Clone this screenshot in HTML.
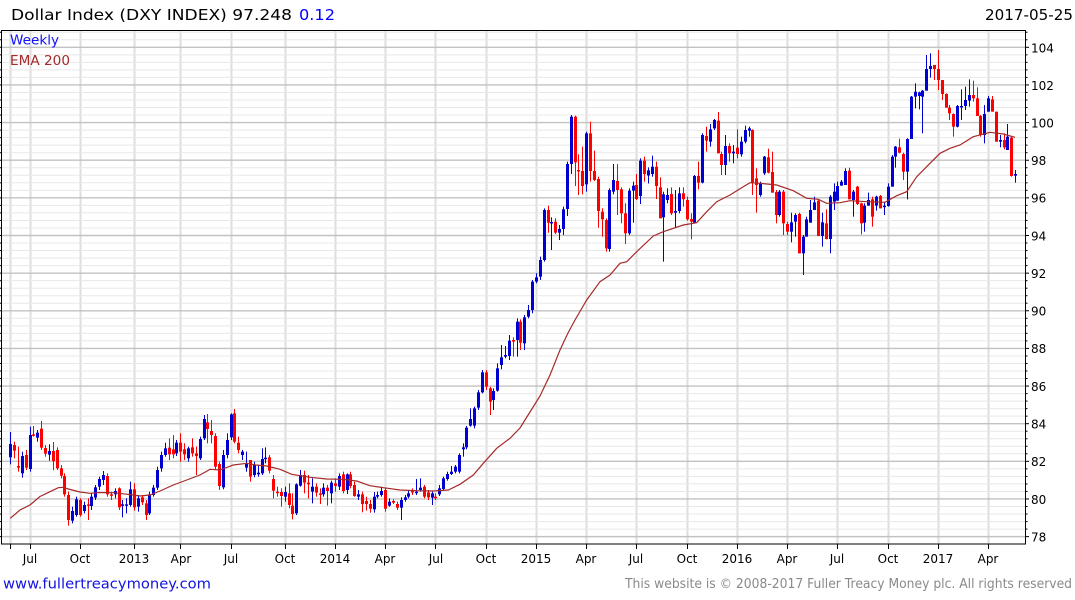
<!DOCTYPE html>
<html><head><meta charset="utf-8">
<style>
html,body{margin:0;padding:0;background:#fff;width:1075px;height:600px;overflow:hidden;}
svg{display:block;}
text{font-family:"DejaVu Sans","Liberation Sans",sans-serif;}
</style></head><body>
<svg id="c" width="1075" height="600" viewBox="0 0 1075 600" xmlns="http://www.w3.org/2000/svg">
<rect x="0" y="0" width="1075" height="600" fill="#fff"/>
<g id="grid"></g>
<g id="candles"></g>
<g id="ema"></g>
<g id="axes"></g>
<rect x="1.5" y="30.5" width="1024" height="513.5" fill="none" stroke="#000" stroke-width="1"/>

<text x="11" y="20" font-size="15" fill="#000" textLength="281" lengthAdjust="spacingAndGlyphs">Dollar Index (DXY INDEX) 97.248</text>
<text x="299" y="20" font-size="15" fill="#0000ff" textLength="36" lengthAdjust="spacingAndGlyphs">0.12</text>
<text x="985" y="20" font-size="15" fill="#000" textLength="88" lengthAdjust="spacingAndGlyphs">2017-05-25</text>

<text x="10" y="44.5" font-size="13" fill="#1010ff" textLength="49" lengthAdjust="spacingAndGlyphs">Weekly</text>
<text x="10" y="65" font-size="13" fill="#a52a2a" textLength="60" lengthAdjust="spacingAndGlyphs">EMA 200</text>

<g font-size="12" fill="#000">
<text x="1031" y="52.3">104</text>
<text x="1031" y="89.9">102</text>
<text x="1031" y="127.5">100</text>
<text x="1031" y="165.1">98</text>
<text x="1031" y="202.7">96</text>
<text x="1031" y="240.3">94</text>
<text x="1031" y="277.9">92</text>
<text x="1031" y="315.6">90</text>
<text x="1031" y="353.2">88</text>
<text x="1031" y="390.9">86</text>
<text x="1031" y="428.5">84</text>
<text x="1031" y="466.1">82</text>
<text x="1031" y="503.8">80</text>
<text x="1031" y="541.4">78</text>
</g>

<g font-size="12" fill="#000" text-anchor="middle">
<text x="30" y="563">Jul</text>
<text x="80" y="563">Oct</text>
<text x="134" y="563">2013</text>
<text x="181" y="563">Apr</text>
<text x="231" y="563">Jul</text>
<text x="285" y="563">Oct</text>
<text x="335" y="563">2014</text>
<text x="385" y="563">Apr</text>
<text x="436" y="563">Jul</text>
<text x="486" y="563">Oct</text>
<text x="536" y="563">2015</text>
<text x="586" y="563">Apr</text>
<text x="636" y="563">Jul</text>
<text x="687" y="563">Oct</text>
<text x="737" y="563">2016</text>
<text x="787" y="563">Apr</text>
<text x="837" y="563">Jul</text>
<text x="888" y="563">Oct</text>
<text x="938" y="563">2017</text>
<text x="988" y="563">Apr</text>
</g>

<text x="3" y="588.5" font-size="14.5" fill="#1414e0" textLength="208" lengthAdjust="spacingAndGlyphs">www.fullertreacymoney.com</text>
<text x="625" y="588" font-size="13" fill="#8a8a8a" textLength="447" lengthAdjust="spacingAndGlyphs">This website is © 2008-2017 Fuller Treacy Money plc. All rights reserved</text>
</svg>
<script>
(function(){
var NS="http://www.w3.org/2000/svg";
function el(tag,attrs,parent){var e=document.createElementNS(NS,tag);for(var k in attrs)e.setAttribute(k,attrs[k]);parent.appendChild(e);return e;}
var S=3.865,X0=10.3,N=261;
function yOf(p){return 47.3+(104-p)*18.82;}
var grid=document.getElementById('grid'),axes=document.getElementById('axes');
var ticks=[0,5,18,32,44,57,71,84,97,110,123,136,149,162,175,188,201,214,227,240,253];
ticks.forEach(function(t){var x=Math.round(X0+S*t)+0.5;
 el('line',{x1:x,x2:x,y1:31,y2:544,stroke:'#dddddd','stroke-width':2},grid);
 el('line',{x1:x,x2:x,y1:544,y2:549,stroke:'#000','stroke-width':1},axes);});
for(var k=-1;k<=67;k++){var p=78+0.4*k;var y=yOf(p);if(y<31||y>543.5)continue;var major=(k%5===0);
 el('line',{x1:2,x2:1025,y1:y,y2:y,stroke:major?'#c2c2c2':'#e8e8e8','stroke-width':major?1.4:1},grid);
 el('line',{x1:1025.7,x2:major?1029:1027.5,y1:y,y2:y,stroke:'#000','stroke-width':1},axes);
 el('line',{x1:0,x2:2,y1:y,y2:y,stroke:'#000','stroke-width':1},axes);}

var Z=[
{ox:0,oy:400,lo:-1,hi:252,d:[
[31,132,172,'b',96,193],[43,135,152,'r',125,175],[55,198,203,'r',140,215],[67,168,220,'b',155,233],[76,165,203,'r',150,210],[88,105,207,'b',80,215],[100,103,106,'r',78,110],[112,98,113,'b',90,125],[124,86,143,'r',63,150],[136,144,161,'r',135,170],[148,153,164,'b',133,182],[169,150,205,'r',142,210],[181,205,227,'r',195,235],[193,228,283,'r',220,290],[205,285,360,'r',275,377],[217,333,362,'b',320,370],[229,298,345,'b',290,350],[241,300,345,'r',295,350],[250,315,333,'b',305,340],[262,313,317,'r',295,360],[274,290,318,'b',280,330],[286,262,293,'b',255,300],[298,237,260,'b',230,270],[310,225,240,'b',213,255],[322,228,283,'r',220,290],[334,283,287,'r',275,300],[343,273,283,'b',265,295],[355,265,322,'r',262,330],[367,313,317,'b',300,352],[379,313,317,'b',295,340],[391,268,315,'b',245,320],[403,268,322,'r',250,332],[415,295,320,'b',285,335],[424,292,307,'r',285,315],[436,310,345,'r',300,360],[448,283,340,'b',275,345],[460,263,285,'b',255,290],[472,210,263,'b',200,270],[484,165,205,'b',155,215],[496,145,165,'b',128,170],[505,143,163,'r',115,180],[517,148,163,'r',105,175],[529,128,160,'b',120,168],[541,128,155,'r',100,185],[553,148,163,'r',130,180],[565,145,175,'b',140,185],[577,142,160,'r',115,170],[589,160,168,'r',140,225],[598,117,175,'b',110,180],[610,57,115,'b',45,120],[622,67,87,'r',42,130],[634,93,105,'r',60,130],[646,108,200,'r',100,210],[658,192,258,'r',185,270],[670,165,262,'b',150,268],[679,120,165,'b',100,175],[691,43,112,'b',40,120],[703,40,125,'r',27,130],[715,128,150,'r',110,160],[727,155,165,'b',150,180],[739,190,203,'b',155,215],[751,180,230,'r',180,245]]},
{ox:250,oy:360,lo:252,hi:496,d:[
[10,315,345,'b',305,352],[21,338,343,'b',315,350],[33,297,340,'b',265,345],[45,293,297,'b',262,310],[57,292,332,'r',285,340],[69,357,392,'r',345,415],[81,395,398,'r',380,410],[93,396,408,'r',385,440],[104,396,410,'b',380,425],[116,400,435,'r',370,445],[127,437,462,'r',400,478],[139,373,460,'b',370,465],[151,345,377,'b',330,380],[162,345,368,'r',332,400],[174,368,373,'r',345,415],[185,380,395,'b',355,430],[197,380,398,'r',370,410],[208,400,403,'r',385,432],[220,383,403,'b',370,410],[232,383,393,'r',375,437],[243,368,400,'b',362,430],[255,370,378,'r',355,395],[267,348,380,'b',340,390],[278,343,393,'r',335,400],[290,343,390,'b',340,402],[301,343,378,'r',335,385],[313,375,408,'r',365,410],[324,403,410,'b',390,420],[336,403,432,'r',395,457],[348,423,432,'r',410,452],[359,432,446,'r',420,458],[371,410,448,'b',396,458],[382,405,410,'b',395,415],[394,393,405,'b',380,410],[406,390,446,'r',385,455],[417,425,437,'b',415,440],[429,423,428,'r',418,432],[441,432,443,'r',425,450],[452,420,443,'b',412,480],[464,412,420,'b',405,425],[475,400,410,'b',392,415],[487,393,397,'r',385,405],[498,395,398,'b',357,405],[510,383,390,'b',355,395],[522,380,410,'r',375,415],[533,397,412,'r',390,420],[545,400,413,'b',395,435],[556,410,415,'r',400,420],[568,385,403,'b',375,408],[580,355,387,'b',350,392],[591,342,357,'b',335,362],[603,335,342,'b',318,345],[614,320,335,'b',315,340],[626,285,335,'b',280,340],[637,262,268,'b',250,290],[649,203,262,'b',198,268],[660,177,197,'b',145,200],[672,145,197,'b',140,205],[684,97,143,'b',90,150],[695,37,97,'b',30,100],[707,37,80,'r',30,90],[718,85,125,'r',80,165],[730,93,120,'b',85,150]]},
{ox:480,oy:250,lo:496,hi:527,d:[
[52,355,422,'b',340,425],[64,322,345,'b',285,358],[76,315,320,'b',288,325],[88,272,318,'b',255,330],[100,270,275,'r',262,320],[109,215,270,'b',205,320],[121,215,278,'r',208,300],[133,202,280,'b',195,300]]},
{ox:500,oy:100,lo:527,hi:766,d:[
[85,630,650,'b',615,655],[97,545,630,'b',540,640],[109,532,545,'b',520,550],[120,480,530,'b',470,540],[130,330,480,'b',325,485],[142,330,368,'r',317,398],[154,366,368,'b',352,450],[166,365,398,'r',355,402],[178,387,398,'b',375,420],[190,328,387,'b',320,405],[202,192,327,'b',185,348],[211,50,192,'b',45,222],[223,50,187,'r',47,258],[235,210,213,'r',163,285],[247,213,258,'r',140,283],[259,100,253,'b',95,275],[271,100,213,'r',65,245],[283,213,240,'r',152,243],[295,237,333,'r',230,383],[304,335,358,'r',325,410],[316,360,445,'r',355,455],[328,270,447,'b',265,455],[340,240,275,'b',192,283],[352,243,270,'r',192,345],[364,268,340,'r',262,370],[376,340,400,'r',310,432],[385,272,400,'b',265,405],[397,257,272,'b',245,368],[409,255,297,'r',222,300],[421,182,288,'b',175,312],[433,182,222,'r',170,245],[457,200,222,'b',167,230],[469,200,258,'r',185,297],[477,262,355,'r',232,355],[489,283,352,'b',275,485],[503,285,300,'b',265,310],[514,282,340,'r',262,345],[526,333,338,'b',270,383],[538,280,333,'b',262,340],[550,280,298,'r',262,320],[559,300,358,'r',290,362],[571,357,365,'r',340,418],[583,228,368,'b',225,370],[595,228,248,'r',185,268],[607,105,248,'b',100,250],[619,108,122,'r',80,155],[631,88,125,'b',72,140],[643,60,85,'b',57,90],[652,62,160,'r',36,160],[664,162,195,'r',155,225],[676,138,195,'b',105,225],[688,138,160,'r',130,185],[700,155,160,'b',135,190],[712,143,162,'r',88,175],[724,125,163,'b',110,170],[736,90,125,'b',77,130],[745,85,92,'b',80,110],[757,90,250,'r',88,285],[769,235,255,'r',205,338],[781,250,285,'b',245,290],[793,170,220,'b',168,225]]},
{ox:760,oy:40,lo:766,hi:2000,d:[
[24,352,398,'r',326,400],[37,396,458,'r',335,458],[46,456,525,'r',450,550],[58,455,525,'b',450,530],[70,455,550,'r',450,585],[82,552,575,'r',545,585],[94,547,575,'b',518,607],[106,525,545,'b',520,590],[118,522,640,'r',518,640],[127,590,640,'b',585,705],[139,538,590,'b',530,590],[151,510,548,'b',480,547],[163,487,510,'b',470,510],[175,482,588,'r',478,588],[187,547,588,'b',518,620],[199,550,597,'r',508,598],[211,470,597,'b',465,640],[220,455,485,'b',430,510],[232,438,482,'b',425,480],[244,425,437,'b',420,437],[256,393,435,'b',385,435],[268,392,478,'r',383,478],[280,455,480,'b',450,530],[292,440,492,'r',438,495],[301,490,550,'r',488,583],[313,497,548,'b',490,575],[325,480,497,'b',458,497],[337,478,530,'r',470,560],[349,470,497,'b',467,512],[361,468,505,'r',465,505],[373,497,500,'b',485,525],[382,440,498,'b',430,500],[394,350,440,'b',345,440],[406,320,350,'b',318,383],[418,322,338,'r',296,340],[430,342,395,'r',338,420],[442,297,395,'b',295,478],[454,170,297,'b',168,297],[466,155,170,'b',130,205],[478,157,168,'b',155,208],[490,152,170,'b',150,280],[499,87,152,'b',45,152],[511,78,87,'b',40,113],[523,75,87,'r',75,120],[535,87,120,'r',30,150],[547,120,162,'r',120,180],[556,162,203,'r',160,203],[568,203,220,'r',195,240],[580,222,260,'r',220,290],[592,198,260,'b',195,262],[604,198,200,'b',148,240],[616,180,198,'b',140,210],[628,165,182,'b',118,200],[640,165,175,'r',122,185],[649,175,228,'r',142,228],[661,228,285,'r',225,290],[673,222,285,'b',195,310],[685,175,215,'b',168,215],[697,178,215,'r',168,215],[709,215,305,'r',215,305],[721,300,305,'b',285,322],[730,300,322,'r',280,328],[742,290,330,'b',252,330],[754,293,408,'r',290,410],[766,402,407,'b',390,428]]}
];
var slots=[];for(var i=0;i<N;i++)slots.push(null);
Z.forEach(function(z){z.d.forEach(function(e){var x=z.ox+e[0]/3;if(x<z.lo||x>=z.hi)return;var i=Math.round((x-X0)/S);if(i<0||i>=N)return;
 var c={t:z.oy+e[1]/3,b:z.oy+e[2]/3,c:e[3],h:(e.length>4?z.oy+e[4]/3:null),l:(e.length>5?z.oy+e[5]/3:null)};
 if(slots[i]){if(i+1<N&&!slots[i+1])slots[i+1]=c;else if(i>0&&!slots[i-1])slots[i-1]=c;}else slots[i]=c;});});
for(var i=0;i<N;i++){if(!slots[i]){var a=i-1;while(a>=0&&!slots[a])a--;var b=i+1;while(b<N&&!slots[b])b++;
 var A=(a>=0?slots[a]:null)||slots[b],B=(b<N?slots[b]:null)||A;var f=(a>=0&&b<N)?(i-a)/(b-a):0.5;
 var ca=A.c==='b'?A.t:A.b,cb=B.c==='b'?B.t:B.b;var cl=ca+(cb-ca)*f;var op=ca;
 slots[i]={t:Math.min(op,cl),b:Math.max(op,cl)+1.5,c:cl<op?'b':'r',h:null,l:null};}}
var cg=document.getElementById('candles');
for(var i=0;i<N;i++){var s=slots[i];var xc=Math.round(X0+S*i);
 var col=s.c==='b'?'#0000d0':'#ff0000';
 var up=2+(i*37)%8,dn=2+(i*53)%9;
 var h=s.h!=null?Math.min(s.h,s.t):s.t-up;var l=s.l!=null?Math.max(s.l,s.b):s.b+dn;
 el('rect',{x:xc,y:h,width:1,height:Math.max(1,l-h),fill:col},cg);
 el('rect',{x:xc-1,y:s.t,width:3,height:Math.max(1.5,s.b-s.t),fill:col},cg);}
var pts=[[10.3,518.3],[20,510],[30,505],[40,496.5],[50,491.7],[58.3,487.7],[63.3,487.3],[68.3,489],[80,492],[90,493.3],[100,492.5],[113.3,492.7],[126.7,494.2],[140,496],[150,495],[160,491],[173.3,485],[186.7,480],[200,475],[210,469.3],[220,470],[233.3,465],[246.7,463.3],[256,465],[266.7,466],[280,469.3],[291.7,474.3],[310,477.3],[326.7,479],[343.3,479.3],[356.7,481],[370,485.7],[383.3,487.7],[400,490],[416.7,490.7],[433.3,491],[448.3,490],[460,484.3],[473.3,475],[483.3,463.3],[496.7,448.3],[510,438.3],[520,428],[530,412],[540,396],[550,375],[560,350],[568,333],[575,320],[586.7,300],[600,281.7],[610,275],[620,263.3],[626.7,261.7],[636.7,251.7],[653.3,236],[663.3,231.7],[683.3,225],[696.7,222.7],[706.7,211.7],[716.7,201.7],[730,195],[743.3,186.7],[750,182.7],[760,183.3],[776.7,185],[793.3,190.7],[806.7,198.3],[818.3,199.3],[826.7,203.3],[840,202.7],[850,200.7],[866.7,201.7],[885,202.3],[896.7,195.7],[906.7,191.7],[916.7,176.7],[930,163.3],[940,153.3],[950,148.3],[960,145],[973.3,136.7],[990,132.3],[1003.3,134],[1015,137.3]];
el('polyline',{points:pts.map(function(p){return p[0]+','+p[1];}).join(' '),fill:'none',stroke:'#a52a2a','stroke-width':1.2},document.getElementById('ema'));
})();
</script>
</body></html>
